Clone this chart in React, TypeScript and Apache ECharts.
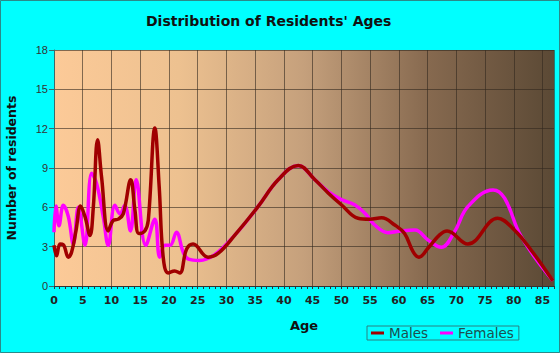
import React, { useEffect, useRef } from "react";
import * as echarts from "echarts";

const titleText = "Distribution of Residents' Ages";
const xName = "Age";
const yName = "Number of residents";
const seriesNames = ["Males", "Females"];

const males: [number, number][] = [
  [0, 3.1], [0.45, 2.3], [1.04, 3.2], [1.62, 3.15], [2.49, 2.2], [3.07, 2.6],
  [3.82, 4.2], [4.63, 6.1], [5.39, 5.3], [6.26, 3.85], [6.84, 6.0], [7.59, 11.15],
  [8.28, 8.3], [9.44, 4.2], [10.3, 5.0], [11.2, 5.1], [12.05, 5.5], [13.35, 8.1],
  [14.08, 5.8], [14.77, 4.0], [15.8, 4.2], [16.4, 5.0], [17.55, 12.05], [18.3, 7.6],
  [19.0, 2.2], [19.87, 1.0], [21.0, 1.15], [21.9, 1.0], [23.06, 2.8], [24.2, 3.2],
  [26.8, 2.2], [28.6, 2.5], [31.5, 3.9], [35.5, 6.05], [39.0, 8.1], [42.5, 9.2],
  [45.4, 8.1], [47.7, 7.1], [50.0, 6.2], [52.9, 5.17], [54.9, 5.1], [57.0, 5.2],
  [59.3, 4.65], [61.0, 4.0], [62.5, 2.6], [63.5, 2.2], [65.1, 2.9], [67.1, 3.9],
  [68.4, 4.2], [72.0, 3.2], [77.2, 5.17], [80.1, 4.27], [83.0, 2.75], [86.8, 0.4],
];

const females: [number, number][] = [
  [0, 4.1], [0.35, 6.1], [0.87, 4.6], [1.62, 6.15], [2.49, 5.3], [3.36, 3.2],
  [4.23, 6.0], [5.39, 3.1], [6.55, 8.6], [7.42, 7.8], [8.58, 5.25], [9.44, 3.1],
  [10.6, 6.15], [11.5, 5.5], [12.3, 6.15], [13.3, 4.2], [14.3, 8.1], [15.97, 3.1],
  [17.55, 5.1], [18.4, 2.2], [19.3, 3.1], [20.2, 3.1], [21.3, 4.1], [22.5, 2.55],
  [23.4, 2.05], [25.3, 1.95], [27.9, 2.37], [31.5, 3.9], [35.5, 6.05], [39.0, 8.1],
  [42.5, 9.2], [45.4, 8.1], [47.7, 7.2], [50.0, 6.6], [52.3, 6.2], [54.1, 5.55],
  [55.8, 4.65], [58.1, 4.07], [60.4, 4.2], [62.8, 4.27], [65.1, 3.5], [67.4, 2.95],
  [69.7, 4.15], [72.0, 6.05], [76.4, 7.33], [78.4, 6.7], [81.3, 3.76], [86.8, 0.4],
];

export default function App() {
  const ref = useRef<HTMLDivElement>(null);
  useEffect(() => {
    document.body.style.margin = "0";
    if (!ref.current) return;
    const chart = echarts.init(ref.current, undefined, { renderer: "svg" });
    const font = "Arial, 'Liberation Sans', sans-serif";
    const wide = "'DejaVu Sans', Verdana, sans-serif";
    chart.setOption({
      animation: false,
      backgroundColor: "#00FFFF",
      title: {
        text: titleText,
        left: 146,
        top: 14,
        padding: 0,
        textStyle: { fontFamily: wide, fontSize: 14, fontWeight: "bold", color: "#111" },
      },
      graphic: [
        {
          type: "rect",
          shape: { x: 0.5, y: 0.5, width: 559, height: 352 },
          style: { fill: "none", stroke: "#2A8A8A", lineWidth: 1 },
          z: 100,
          silent: true,
        },
      ],
      legend: {
        data: seriesNames,
        left: 367,
        top: 326,
        padding: [0, 5, 0, 4],
        itemGap: 12,
        itemWidth: 13,
        itemHeight: 3,
        icon: "rect",
        borderColor: "#2A8080",
        borderWidth: 1,
        textStyle: { fontFamily: wide, fontSize: 13.5, color: "#1E4E4E", padding: [1, 0, 0, 0] },
      },
      grid: {
        left: 54,
        right: 6,
        top: 50,
        bottom: 67,
        outerBoundsMode: "none",
        containLabel: false,
        show: true,
        borderWidth: 0,
        backgroundColor: new echarts.graphic.LinearGradient(0, 0, 1, 0, [
          { offset: 0, color: "#FCCA98" },
          { offset: 0.25, color: "#EDC190" },
          { offset: 0.5, color: "#C5A07C" },
          { offset: 0.75, color: "#86694F" },
          { offset: 1, color: "#5B4935" },
        ]),
      },
      xAxis: {
        type: "value",
        min: 0,
        max: 87,
        interval: 5,
        name: xName,
        nameLocation: "middle",
        nameGap: 33,
        nameTextStyle: { fontFamily: wide, fontSize: 13, fontWeight: "bold", color: "#111" },
        axisLine: { show: true, lineStyle: { color: "#333", width: 1 } },
        axisTick: { show: true, length: 3, lineStyle: { color: "#333" } },
        minorTick: { show: true, splitNumber: 5, length: 3, lineStyle: { color: "#333" } },
        axisLabel: {
          fontFamily: wide,
          fontSize: 11,
          fontWeight: "bold",
          color: "#222",
          margin: 9,
          showMaxLabel: false,
        },
        splitLine: { show: true, lineStyle: { color: "rgba(50,40,30,0.6)", width: 1 } },
      },
      yAxis: {
        type: "value",
        min: 0,
        max: 18,
        interval: 3,
        name: yName,
        nameLocation: "middle",
        nameGap: 36,
        nameTextStyle: { fontFamily: wide, fontSize: 12.5, fontWeight: "bold", color: "#111" },
        axisLine: { show: true, lineStyle: { color: "#3A6A6A", width: 1 } },
        axisTick: { show: true, length: 5, lineStyle: { color: "#3A6A6A" } },
        axisLabel: { fontFamily: font, fontSize: 11, color: "#333", margin: 6 },
        splitLine: { show: true, lineStyle: { color: "rgba(50,40,30,0.6)", width: 1 } },
      },
      series: [
        {
          name: "Females",
          type: "line",
          data: females,
          smooth: 0.4,
          showSymbol: false,
          lineStyle: { color: "#FF00FF", width: 3.5 },
          itemStyle: { color: "#FF00FF" },
          z: 2,
        },
        {
          name: "Males",
          type: "line",
          data: males,
          smooth: 0.4,
          showSymbol: false,
          lineStyle: { color: "#A00000", width: 3.5 },
          itemStyle: { color: "#A00000" },
          z: 3,
        },
      ],
    });
    return () => chart.dispose();
  }, []);
  return <div ref={ref} style={{ width: 560, height: 353 }} />;
}
